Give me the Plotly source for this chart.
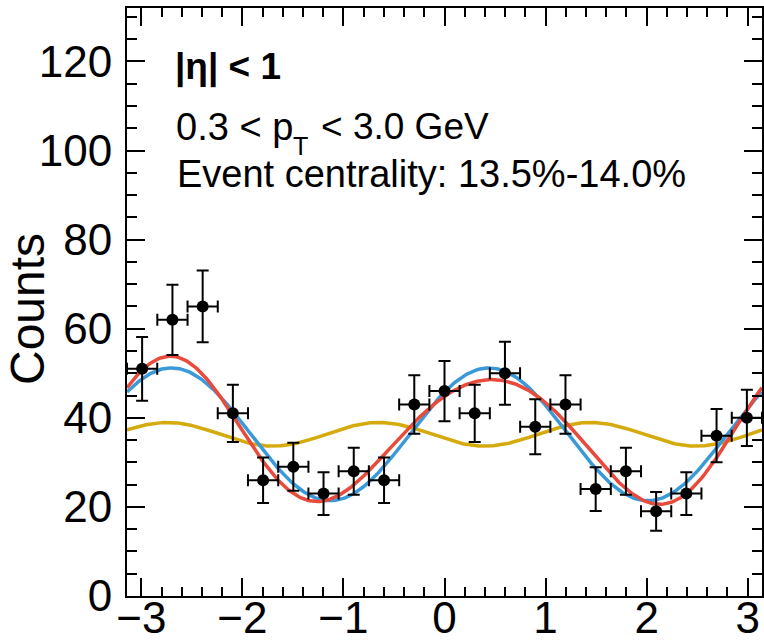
import numpy as np
import plotly.graph_objects as go

# ---- data ----
phi_centers = [-2.992, -2.692, -2.393, -2.094, -1.795, -1.496, -1.197, -0.898,
               -0.598, -0.299, 0.000, 0.299, 0.598, 0.898, 1.197, 1.496,
               1.795, 2.094, 2.393, 2.692, 2.992]
counts = [51, 62, 65, 41, 26, 29, 23, 28, 26, 43, 46, 41, 50, 38, 43, 24,
          28, 19, 23, 36, 40]
bin_half_width = 0.1496
count_errors = [float(np.sqrt(c)) for c in counts]   # Poisson errors

# fit parameters
fit_mean = 36.3
v2_amplitude = 14.9
psi2 = 0.44
v3_amplitude = 2.65
psi3 = -0.65

x_ticks = [-3, -2, -1, 0, 1, 2, 3]
y_ticks = [0, 20, 40, 60, 80, 100, 120]

# ---- curves ----
phi = np.linspace(-np.pi, np.pi, 400)
blue_curve = fit_mean + v2_amplitude * np.cos(2 * (phi - psi2))
yellow_curve = fit_mean + v3_amplitude * np.cos(3 * (phi - psi3))
red_curve = (fit_mean + v2_amplitude * np.cos(2 * (phi - psi2))
             + v3_amplitude * np.cos(3 * (phi - psi3)))

FONT = "Liberation Sans"
fig = go.Figure()
fig.add_trace(go.Scatter(x=phi, y=yellow_curve, mode="lines",
                         line=dict(color="#D4AA0C", width=3.5), hoverinfo="skip"))
fig.add_trace(go.Scatter(x=phi, y=blue_curve, mode="lines",
                         line=dict(color="#3A9AD9", width=3.5), hoverinfo="skip"))
fig.add_trace(go.Scatter(x=phi, y=red_curve, mode="lines",
                         line=dict(color="#E84A3C", width=3.5), hoverinfo="skip"))
fig.add_trace(go.Scatter(
    x=phi_centers, y=counts, mode="markers",
    marker=dict(color="black", size=12, symbol="circle"),
    error_y=dict(type="data", array=count_errors, color="black", thickness=2, width=6),
    error_x=dict(type="constant", value=bin_half_width, color="black", thickness=2, width=6),
))

L, R, T, B = 127, 2, 8, 47
W, H = 764, 643
pw, ph = W - L - R, H - T - B

def px(xp):
    return (xp - L) / pw

def py(yp):
    return (H - B - yp) / ph

axis_common = dict(
    showline=True, linecolor="black", linewidth=2, mirror="ticks",
    ticks="inside", ticklen=18, tickwidth=2, tickcolor="black",
    showgrid=False, zeroline=False, automargin=False,
    tickfont=dict(family=FONT, size=44, color="black"),
)

fig.update_layout(
    width=W, height=H,
    margin=dict(l=L, r=R, t=T, b=B),
    paper_bgcolor="white", plot_bgcolor="white",
    showlegend=False,
    font=dict(family=FONT, color="black"),
    xaxis=dict(range=[-np.pi, np.pi], tickvals=x_ticks, ticklabelstandoff=-18,
               minor=dict(dtick=0.2, tick0=0, ticklen=9, tickwidth=2,
                          tickcolor="black", ticks="inside", showgrid=False),
               **axis_common),
    yaxis=dict(range=[0, 132], tickvals=y_ticks, ticklabelstandoff=4,
               minor=dict(dtick=5, tick0=0, ticklen=10, tickwidth=2,
                          tickcolor="black", ticks="inside", showgrid=False),
               **axis_common),
)

annots = [
    dict(text="<b>|η| < 1</b>", x=173, y=67, size=37),
    dict(text="0.3 < p", x=174, y=127, size=38),
    dict(text="T", x=291, y=146, size=25),
    dict(text="< 3.0 GeV", x=319, y=127, size=37),
    dict(text="Event centrality: 13.5%-14.0%", x=175, y=174, size=38),
]
for a in annots:
    fig.add_annotation(text=a["text"], x=px(a["x"]), y=py(a["y"]), xref="paper", yref="paper",
                       xanchor="left", yanchor="middle", showarrow=False,
                       font=dict(family=FONT, size=a["size"], color="black"))

fig.add_annotation(text="Counts", x=px(27), y=py(309), xref="paper", yref="paper",
                   xanchor="center", yanchor="middle", textangle=-90, showarrow=False,
                   font=dict(family=FONT, size=48, color="black"))

fig.write_html("out.html", config={"displayModeBar": False},
               post_script="document.body.style.margin='0';")
